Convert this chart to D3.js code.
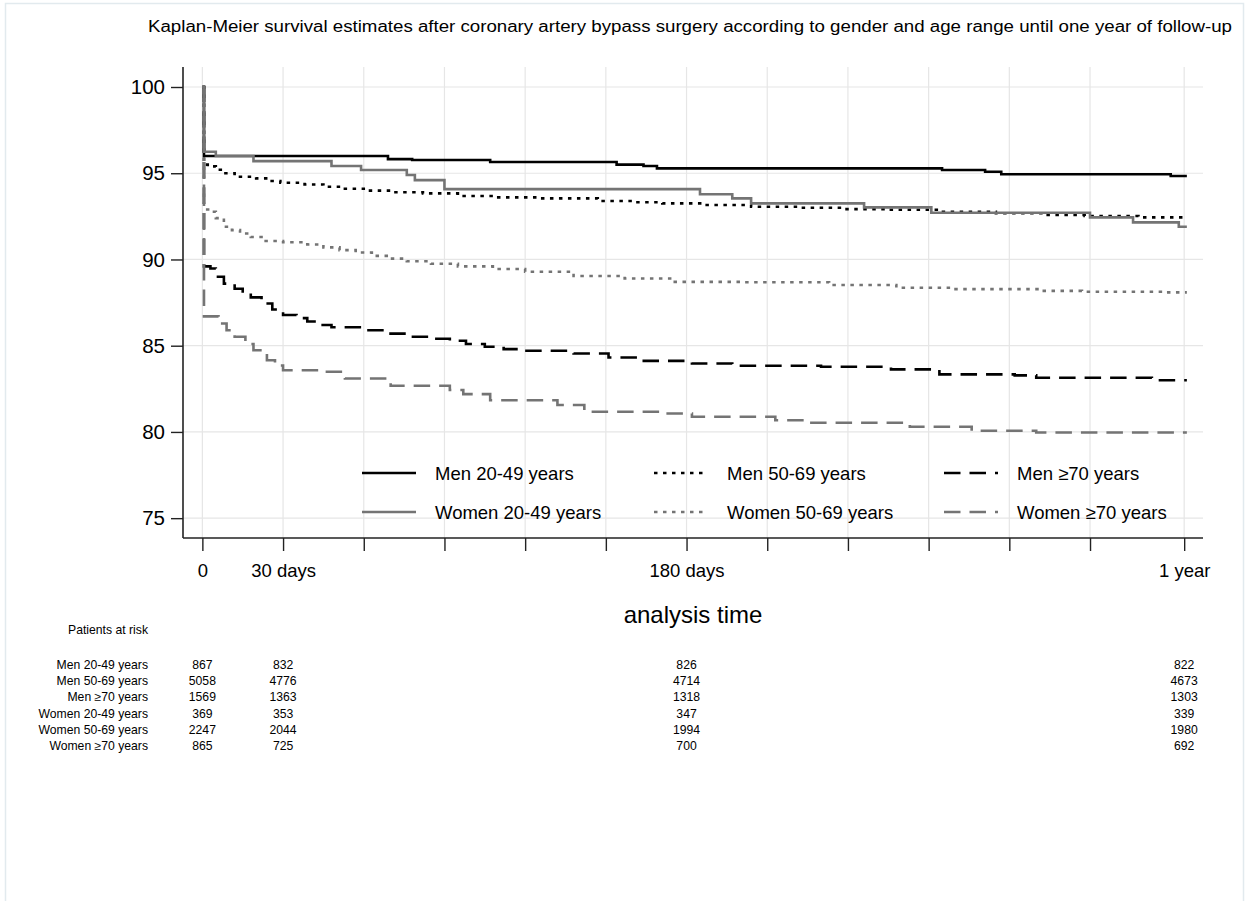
<!DOCTYPE html>
<html>
<head>
<meta charset="utf-8">
<script src="https://cdn.jsdelivr.net/npm/d3@7"></script>
<style>
  html, body { margin: 0; padding: 0; background: #fff; }
  text { font-family: "Liberation Sans", Arial, sans-serif; }
</style>
</head>
<body>
<svg id="chart" width="1248" height="901"></svg>
<script>
// ---------------- DATA ----------------
const titleText = "Kaplan-Meier survival estimates after coronary artery bypass surgery according to gender and age range until one year of follow-up";
const seriesNames = ["Men 20-49 years", "Men 50-69 years", "Men \u226570 years",
                     "Women 20-49 years", "Women 50-69 years", "Women \u226570 years"];

// [day, survival %] step points
const men2049 = [[0,100],[0.6,96.0],[69,95.82],[78,95.77],[107,95.65],[154,95.5],[164,95.42],[169,95.28],
  [275,95.19],[291,95.09],[297,94.94],[360,94.84],[366,94.84]];
const men5069 = [[0,100],[0.6,95.5],[2,95.4],[5,95.2],[8,95.0],[12,94.8],[20,94.7],[25,94.55],[29,94.45],
  [38,94.35],[45,94.22],[52,94.1],[60,93.99],[70,93.9],[82,93.83],[95,93.68],[110,93.6],[125,93.54],
  [147,93.39],[160,93.32],[171,93.25],[186,93.16],[204,93.06],[222,93.0],[237,92.92],[255,92.88],
  [274,92.77],[295,92.68],[313,92.58],[328,92.52],[348,92.44],[366,92.42]];
const men70 = [[0,100],[0.6,89.6],[3,89.48],[5,89.0],[8,88.6],[12,88.3],[15,88.03],[18,87.8],[22,87.45],
  [26,87.1],[30,86.78],[35,86.6],[39,86.4],[44,86.2],[48,86.07],[60,85.9],[68,85.7],[76,85.52],[84,85.4],
  [92,85.29],[98,85.1],[105,84.94],[112,84.8],[120,84.71],[138,84.55],[151,84.32],[163,84.12],[182,83.97],
  [197,83.84],[230,83.78],[256,83.63],[274,83.34],[302,83.28],[310,83.14],[353,83.0],[366,83.0]];
const women2049 = [[0,100],[0.6,96.25],[5,96.0],[19,95.7],[48,95.42],[59,95.19],[76,94.9],[79,94.6],
  [90,94.08],[185,93.78],[197,93.54],[204,93.25],[246,93.02],[271,92.71],[330,92.44],[346,92.15],
  [363,91.9],[366,91.9]];
const women5069 = [[0,100],[0.6,92.9],[3,92.77],[5,92.4],[8,91.9],[11,91.7],[14,91.51],[18,91.3],[23,91.07],
  [30,91.0],[39,90.87],[45,90.7],[51,90.54],[57,90.4],[63,90.21],[70,90.05],[76,89.9],[85,89.75],[95,89.6],
  [108,89.45],[120,89.29],[138,89.04],[157,88.9],[175,88.7],[200,88.68],[233,88.52],[258,88.36],
  [280,88.28],[311,88.18],[327,88.13],[357,88.09],[366,88.09]];
const women70 = [[0,100],[0.6,86.7],[6,86.29],[9,85.9],[12,85.52],[16,85.1],[19,84.74],[24,84.16],
  [27,83.85],[30,83.58],[45,83.49],[53,83.1],[70,82.68],[92,82.43],[97,82.19],[107,81.84],[132,81.56],
  [142,81.17],[170,81.07],[182,80.88],[213,80.68],[225,80.53],[263,80.3],[286,80.07],[310,79.97],[366,79.97]];

const yTicks = [75, 80, 85, 90, 95, 100];
const xTicks = [0, 30, 60, 90, 120, 150, 180, 210, 240, 270, 300, 330, 365];
const xTickLabels = {0: "0", 30: "30 days", 180: "180 days", 365: "1 year"};
const xAxisTitle = "analysis time";

const riskTitle = "Patients at risk";
const riskDays = [0, 30, 180, 365];
const riskMen2049 = [867, 832, 826, 822];
const riskMen5069 = [5058, 4776, 4714, 4673];
const riskMen70 = [1569, 1363, 1318, 1303];
const riskWomen2049 = [369, 353, 347, 339];
const riskWomen5069 = [2247, 2044, 1994, 1980];
const riskWomen70 = [865, 725, 700, 692];

// ---------------- CHART ----------------
(function () {
const svg = d3.select("#chart");
const BLACK = "#000000", GRAY = "#747474";
const styles = [
  {color: BLACK, dash: null},
  {color: BLACK, dash: "3.5,5.5"},
  {color: BLACK, dash: "16.5,9"},
  {color: GRAY, dash: null},
  {color: GRAY, dash: "3.5,5.5"},
  {color: GRAY, dash: "16.5,9"}
];
const allSeries = [men2049, men5069, men70, women2049, women5069, women70];
const allRisk = [riskMen2049, riskMen5069, riskMen70, riskWomen2049, riskWomen5069, riskWomen70];

// outer frame
svg.append("rect").attr("x", 5.5).attr("y", 3.5).attr("width", 1238).attr("height", 910)
  .attr("fill", "#fff").attr("stroke", "#e2eaee").attr("stroke-width", 1.5);

const pLeft = 183, pRight = 1203, pTop = 67, pBottom = 538;
const x = d3.scaleLinear().domain([-7.2, 372]).range([pLeft, pRight]);
const y = d3.scaleLinear().domain([73.85, 101.16]).range([pBottom, pTop]);

// title
svg.append("text").attr("x", 148).attr("y", 32).attr("text-anchor", "start")
  .attr("font-size", 16).attr("textLength", 1084).attr("lengthAdjust", "spacingAndGlyphs")
  .attr("fill", "#000").text(titleText);

// grid
const grid = svg.append("g");
grid.selectAll("line.h").data(yTicks).join("line").attr("class", "h")
  .attr("x1", pLeft).attr("x2", pRight).attr("y1", d => y(d)).attr("y2", d => y(d))
  .attr("stroke", "#e6e6e6").attr("stroke-width", 1.2);
grid.selectAll("line.v").data(xTicks).join("line").attr("class", "v")
  .attr("y1", pTop).attr("y2", pBottom).attr("x1", d => x(d)).attr("x2", d => x(d))
  .attr("stroke", "#e6e6e6").attr("stroke-width", 1.2);

// axes
const yAxis = d3.axisLeft(y).tickValues(yTicks).tickSize(12).tickPadding(6).tickFormat(d3.format("d"));
const gy = svg.append("g").attr("transform", `translate(${pLeft},0)`).call(yAxis);
gy.select(".domain").attr("d", `M0,${pTop}V${pBottom}`).attr("stroke", "#222").attr("stroke-width", 1.6);
gy.selectAll(".tick line").attr("stroke", "#222").attr("stroke-width", 1.4);
gy.selectAll(".tick text").attr("font-size", 20.5).attr("fill", "#000")
  .attr("font-family", "Liberation Sans, Arial, sans-serif");

const xAxis = d3.axisBottom(x).tickValues(xTicks).tickSize(13).tickPadding(13)
  .tickFormat(d => xTickLabels[d] || "");
const gx = svg.append("g").attr("transform", `translate(0,${pBottom})`).call(xAxis);
gx.select(".domain").attr("d", `M${pLeft},0H${pRight}`).attr("stroke", "#222").attr("stroke-width", 1.6);
gx.selectAll(".tick line").attr("stroke", "#222").attr("stroke-width", 1.4);
gx.selectAll(".tick text").attr("font-size", 18.5).attr("fill", "#000")
  .attr("font-family", "Liberation Sans, Arial, sans-serif");

svg.append("text").attr("x", (pLeft + pRight) / 2).attr("y", 623).attr("text-anchor", "middle")
  .attr("font-size", 24).attr("fill", "#000").text(xAxisTitle);

// curves
const line = d3.line().x(d => x(d[0])).y(d => y(d[1])).curve(d3.curveStepAfter);
const gc = svg.append("g");
allSeries.forEach((s, i) => {
  gc.append("path").datum(s).attr("d", line).attr("fill", "none")
    .attr("stroke", styles[i].color).attr("stroke-width", 2.6)
    .attr("stroke-dasharray", styles[i].dash);
});

// legend
const legCols = [362, 654, 944];
const legRows = [473, 512];
const lg = svg.append("g");
seriesNames.forEach((name, i) => {
  const col = i % 3, row = Math.floor(i / 3);
  const lx = legCols[col], ly = legRows[row];
  lg.append("line").attr("x1", lx).attr("x2", lx + 54).attr("y1", ly).attr("y2", ly)
    .attr("stroke", styles[i].color).attr("stroke-width", 2.6)
    .attr("stroke-dasharray", styles[i].dash);
  lg.append("text").attr("x", lx + 73).attr("y", ly + 6.5).attr("font-size", 18.5)
    .attr("fill", "#000").text(name);
});

// risk table
svg.append("text").attr("x", 148).attr("y", 634).attr("text-anchor", "end")
  .attr("font-size", 12.2).attr("fill", "#000").text(riskTitle);
const rowY = d3.scalePoint().domain(d3.range(6)).range([669, 750]);
seriesNames.forEach((name, i) => {
  svg.append("text").attr("x", 148).attr("y", rowY(i)).attr("text-anchor", "end")
    .attr("font-size", 12.2).attr("fill", "#000").text(name);
  allRisk[i].forEach((v, j) => {
    svg.append("text").attr("x", x(riskDays[j])).attr("y", rowY(i)).attr("text-anchor", "middle")
      .attr("font-size", 12.2).attr("fill", "#000").text(v);
  });
});
})();
</script>
</body>
</html>
